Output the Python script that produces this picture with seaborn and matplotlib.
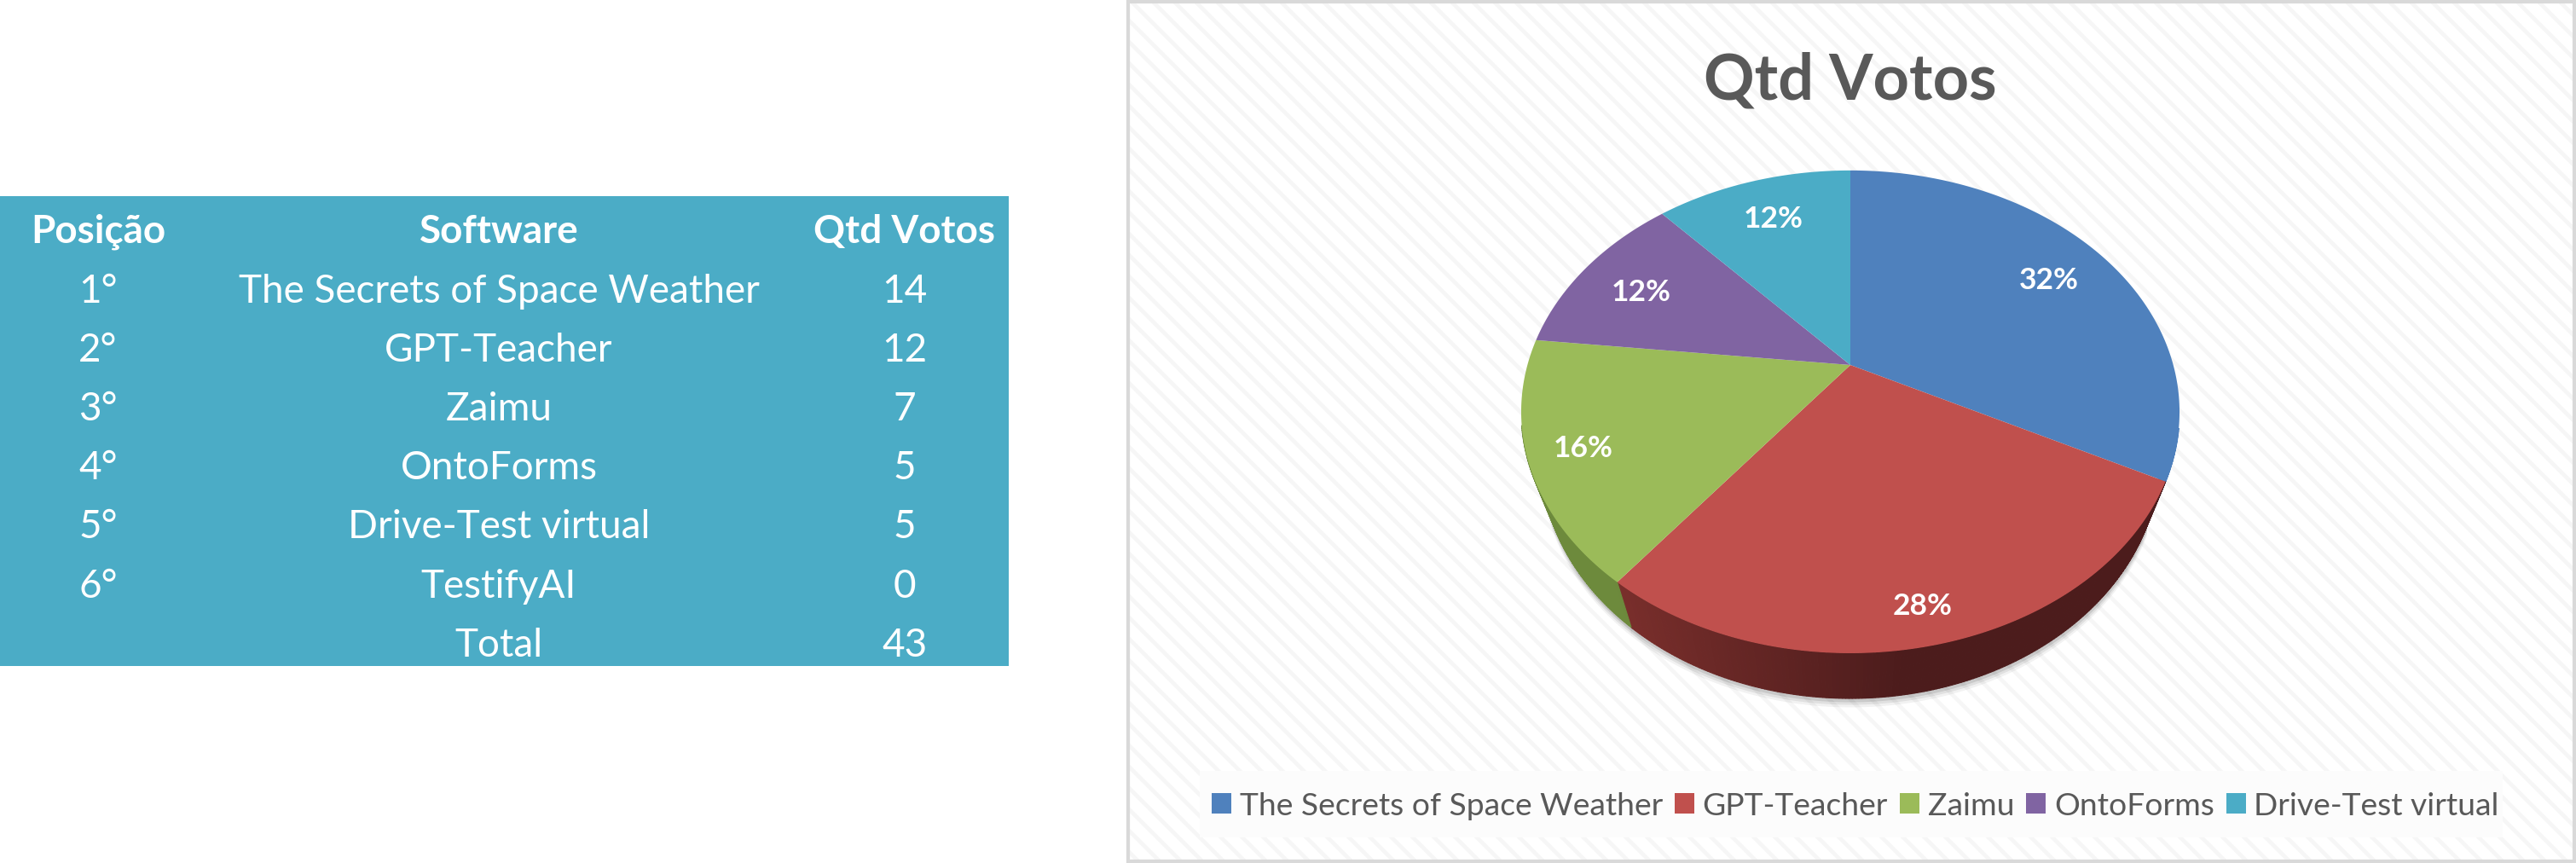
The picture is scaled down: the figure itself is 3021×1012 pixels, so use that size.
import numpy as np
import pandas as pd
import matplotlib
matplotlib.use("Agg")
import matplotlib.pyplot as plt
import matplotlib.transforms as mtransforms
from matplotlib.patches import Rectangle
from matplotlib.path import Path
import seaborn as sns

# table values
posicoes = ["1°", "2°", "3°", "4°", "5°", "6°", ""]
softwares = ["The Secrets of Space Weather", "GPT-Teacher", "Zaimu", "OntoForms",
             "Drive-Test virtual", "TestifyAI", "Total"]
votos = [14, 12, 7, 5, 5, 0, 43]
colunas = ["Posição", "Software", "Qtd Votos"]

# pie values
pie_names = softwares[:5]
pie_votes = votos[:5]
pie_pct = ["32%", "28%", "16%", "12%", "12%"]
pie_colors = ["#4f81bd", "#c0504d", "#9bbb59", "#8064a2", "#4bacc6"]
wall_light = ["#4f81bd", "#7b2f2c", "#6d8a3c", "#8064a2", "#4bacc6"]
wall_dark = ["#4f81bd", "#4c1c1c", "#5f7a33", "#8064a2", "#4bacc6"]

W, H = 3021, 1012
DPI = 150
TEAL = "#4bacc6"
GREY = "#595959"

sns.set_theme(style="white")
plt.rcParams["font.family"] = ["Lato", "DejaVu Sans"]
plt.rcParams["hatch.linewidth"] = 2.2
palette = sns.color_palette(pie_colors)

fig = plt.figure(figsize=(W / DPI, H / DPI), dpi=DPI, facecolor="white")
ax = fig.add_axes([0, 0, 1, 1])


# pie plane seen in perspective, a circle comes out as the tilted ellipse of the chart
class Tilt(mtransforms.Transform):
    input_dims = 2
    output_dims = 2
    is_separable = False
    has_inverse = False

    def __init__(self, cx=2170, cy=428, a=378.7, b=272.4, k=0.194):
        super().__init__()
        self.cx, self.cy, self.a, self.b, self.k = cx, cy, a, b, k

    def transform_non_affine(self, values):
        values = np.asarray(values)
        den = 1 + self.k * values[:, 1]
        return np.column_stack([self.cx + self.a * values[:, 0] / den,
                                self.cy - self.b * values[:, 1] / den])

    def transform_path_non_affine(self, path):
        # flatten the arcs at a big scale first, otherwise they come out as corners
        big = path.transformed(mtransforms.Affine2D().scale(3000))
        poly = big.to_polygons(closed_only=False)[0] / 3000
        return Path(self.transform_non_affine(poly))


tilt = Tilt()

# top face
wedges, _ = ax.pie(pie_votes, colors=palette, startangle=90, counterclock=False,
                   wedgeprops={"linewidth": 0, "zorder": 6})
for wedge in wedges:
    wedge.set_transform(tilt + ax.transData)

ax.set_aspect("auto")
ax.set_xlim(0, W)
ax.set_ylim(H, 0)
ax.axis("off")

# chart area
ax.add_patch(Rectangle((1323, 2), W - 1325, H - 4, facecolor="white", edgecolor="#f6f6f6",
                       hatch="\\\\", linewidth=0, zorder=1))
ax.add_patch(Rectangle((1323, 2), W - 1325, H - 4, fill=False, edgecolor="#d9d9d9",
                       linewidth=2, zorder=2))
ax.add_patch(Rectangle((1407, 904), 1528, 78, facecolor="#fcfcfc", linewidth=0, zorder=2))

# outer edge of the pie, front half only gets a wall
depth = 53
shrink = 0.94
edges = np.cumsum([0] + pie_votes) / sum(pie_votes) * 360
for i in range(len(pie_votes)):
    ang = np.radians(np.arange(edges[i], edges[i + 1] + 0.5, 0.5))
    top = tilt.transform_non_affine(np.column_stack([np.sin(ang), np.cos(ang)]))
    low = np.column_stack([tilt.cx + shrink * (top[:, 0] - tilt.cx), top[:, 1] + depth])
    # soft shadow under the rim
    for s, alpha in zip([10, 7, 4], [0.05, 0.07, 0.1]):
        if i in (1, 2):
            ax.fill_between(low[:, 0], low[:, 1] - 4, low[:, 1] + s, color="black",
                            alpha=alpha, linewidth=0, zorder=3)
    for j in range(len(ang) - 1):
        if np.cos(ang[j]) > 0.1 or low[j, 1] < top[j, 1] or top[j, 1] < 500:
            continue
        t = np.clip((tilt.cx + 60 - low[j, 0]) / 330, 0, 1)
        col = np.array(matplotlib.colors.to_rgb(wall_dark[i])) * (1 - t) + \
            np.array(matplotlib.colors.to_rgb(wall_light[i])) * t
        ax.fill([top[j, 0], top[j + 1, 0], low[j + 1, 0], low[j, 0]],
                [top[j, 1], top[j + 1, 1], low[j + 1, 1], low[j, 1]],
                color=col, linewidth=0.6, zorder=4)

# percent labels
label_x = [2403, 2255, 1857, 1925, 2080]
label_y = [329, 711, 526, 343, 257]
for x, y, txt in zip(label_x, label_y, pie_pct):
    ax.text(x, y, txt, color="white", fontsize=17, fontweight="bold",
            ha="center", va="center", zorder=7)

ax.text(2170, 95, colunas[2], color=GREY, fontsize=35.5, fontweight="bold",
        ha="center", va="center", zorder=7)

# legend
leg = ax.legend(wedges, pie_names, ncol=5, loc="center", bbox_to_anchor=(2176, 945),
                bbox_transform=ax.transData, frameon=False, fontsize=17.9, labelcolor=GREY,
                handlelength=0.62, handleheight=0.62, handletextpad=0.25, columnspacing=0.38,
                borderpad=0)
leg.set_zorder(7)

# table on the left
tabela = pd.DataFrame({colunas[0]: posicoes, colunas[1]: softwares, colunas[2]: votos})
col_x = [115, 585, 1061]
row_y = [342, 411, 480, 549, 618, 688, 757]
ax.add_patch(Rectangle((0, 230), 1183, 551, facecolor=TEAL, linewidth=0, zorder=1))
for x, nome in zip(col_x, colunas):
    ax.text(x, 272, nome, color="white", fontsize=22, fontweight="bold",
            ha="center", va="center", zorder=7)
for y, (_, row) in zip(row_y, tabela.iterrows()):
    for x, nome in zip(col_x, colunas):
        ax.text(x, y, str(row[nome]), color="white", fontsize=22,
                ha="center", va="center", zorder=7)

fig.savefig("out.png", dpi=DPI)
